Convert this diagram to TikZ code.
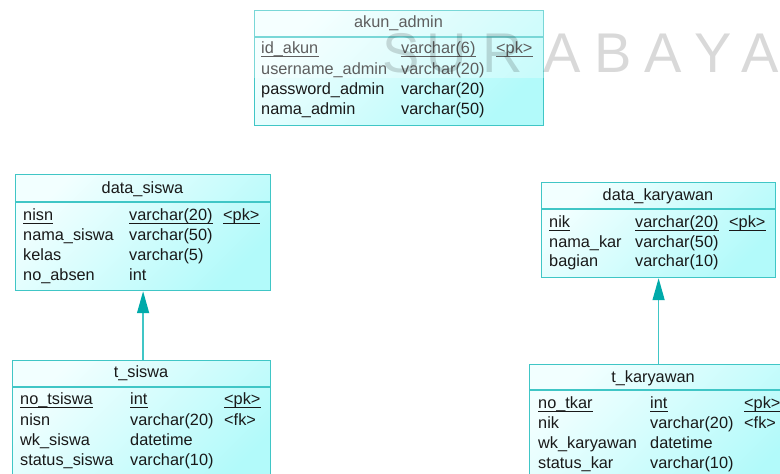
\documentclass[tikz,border=0pt]{standalone}
\usepackage{fontspec}
\setmainfont{Liberation Sans}
\usetikzlibrary{arrows.meta}
\definecolor{bord}{RGB}{64,198,198}
\definecolor{fillA}{RGB}{242,255,255}
\definecolor{fillB}{RGB}{178,250,250}
\definecolor{arrfill}{RGB}{0,170,170}
\definecolor{txt}{RGB}{25,25,25}
\tikzset{
  tbox/.style={draw=bord, line width=1.2pt, top color=fillA, bottom color=fillB, shading angle=45, anchor=north west, inner sep=0pt},
  bline/.style={draw=bord, line width=1.2pt},
  ftxt/.style={anchor=west, inner sep=0pt, text height=11pt, text depth=3pt, font=\fontsize{16.3}{19}\selectfont, text=txt},
  hdr/.style={anchor=center, inner sep=0pt, text height=11pt, text depth=3pt, font=\fontsize{16.3}{19}\selectfont, text=txt},
  uline/.style={draw=txt, line width=1.3pt},
  rel/.style={draw=bord, line width=1.4pt, -{Triangle[length=22pt,width=12pt,color=arrfill]}},
  wm/.style={anchor=base, inner sep=0pt, font=\fontsize{56}{60}\selectfont, text=black, text opacity=0.15}
}
\newcommand\fld[4]{\node[ftxt] (#1) at (#2,#3) {#4};}
\newcommand\ufld[4]{\node[ftxt] (#1) at (#2,#3) {#4};
  \draw[uline] (#1.south west) -- (#1.south east);}
\newcommand\hsep[2]{\draw[bline] ([yshift=-#2pt]#1.north west) -- ([yshift=-#2pt]#1.north east);}
\begin{document}
\begin{tikzpicture}[x=1pt,y=-1pt]
\useasboundingbox (0,0) rectangle (780,474);
\fill[white] (0,0) rectangle (780,474);

% akun_admin
\node[tbox, minimum width=289pt, minimum height=115pt] (ak) at (254,10) {};
\hsep{ak}{27}
\node[hdr] (akh) at (398.5,23.5) {akun\_admin};
\ufld{ak1a}{261}{49}{id\_akun}
\ufld{ak1b}{401}{49}{varchar(6)}
\ufld{ak1c}{496}{49}{<pk>}
\fld{ak2a}{261}{70}{username\_admin}
\fld{ak2b}{401}{70}{varchar(20)}
\fld{ak3a}{261}{90}{password\_admin}
\fld{ak3b}{401}{90}{varchar(20)}
\fld{ak4a}{261}{110}{nama\_admin}
\fld{ak4b}{401}{110}{varchar(50)}

% data_siswa
\node[tbox, minimum width=255pt, minimum height=116pt] (ds) at (15,174) {};
\hsep{ds}{28}
\node[hdr] (dsh) at (142.5,189) {data\_siswa};
\ufld{ds1a}{23}{216.5}{nisn}
\ufld{ds1b}{129}{216.5}{varchar(20)}
\ufld{ds1c}{223}{216.5}{<pk>}
\fld{ds2a}{23}{236.5}{nama\_siswa}
\fld{ds2b}{129}{236.5}{varchar(50)}
\fld{ds3a}{23}{256.5}{kelas}
\fld{ds3b}{129}{256.5}{varchar(5)}
\fld{ds4a}{23}{276.5}{no\_absen}
\fld{ds4b}{129}{276.5}{int}

% data_karyawan
\node[tbox, minimum width=234pt, minimum height=95pt] (dk) at (541,182) {};
\hsep{dk}{27}
\node[hdr] (dkh) at (658,196) {data\_karyawan};
\ufld{dk1a}{549}{223}{nik}
\ufld{dk1b}{635}{223}{varchar(20)}
\ufld{dk1c}{729}{223}{<pk>}
\fld{dk2a}{549}{243}{nama\_kar}
\fld{dk2b}{635}{243}{varchar(50)}
\fld{dk3a}{549}{262.5}{bagian}
\fld{dk3b}{635}{262.5}{varchar(10)}

% t_siswa
\node[tbox, minimum width=258pt, minimum height=130pt] (ts) at (12,360) {};
\hsep{ts}{27}
\node[hdr] (tsh) at (141,373.5) {t\_siswa};
\ufld{ts1a}{20}{400.5}{no\_tsiswa}
\ufld{ts1b}{130}{400.5}{int}
\ufld{ts1c}{224}{400.5}{<pk>}
\fld{ts2a}{20}{421}{nisn}
\fld{ts2b}{130}{421}{varchar(20)}
\fld{ts2c}{224}{421}{<fk>}
\fld{ts3a}{20}{441}{wk\_siswa}
\fld{ts3b}{130}{441}{datetime}
\fld{ts4a}{20}{461.5}{status\_siswa}
\fld{ts4b}{130}{461.5}{varchar(10)}

% t_karyawan
\node[tbox, minimum width=262pt, minimum height=130pt] (tk) at (529,364) {};
\hsep{tk}{26}
\node[hdr] (tkh) at (653,378) {t\_karyawan};
\ufld{tk1a}{538}{404}{no\_tkar}
\ufld{tk1b}{650}{404}{int}
\ufld{tk1c}{744}{404}{<pk>}
\fld{tk2a}{538}{424}{nik}
\fld{tk2b}{650}{424}{varchar(20)}
\fld{tk2c}{744}{424}{<fk>}
\fld{tk3a}{538}{444}{wk\_karyawan}
\fld{tk3b}{650}{444}{datetime}
\fld{tk4a}{538}{464.5}{status\_kar}
\fld{tk4b}{650}{464.5}{varchar(10)}

% references
\draw[rel] (ds.south |- ts.north) -- (ds.south);
\draw[rel] (dk.south |- tk.north) -- (dk.south);

% watermark
\fill[white, opacity=0.3] (0,0) rectangle (780,78);
\foreach \l/\x [count=\i] in {S/401,U/447,R/503,A/562,B/613,A/663,Y/713,A/760}
  \node[wm] (wm\i) at (\x,72) {\l};
\end{tikzpicture}
\end{document}
